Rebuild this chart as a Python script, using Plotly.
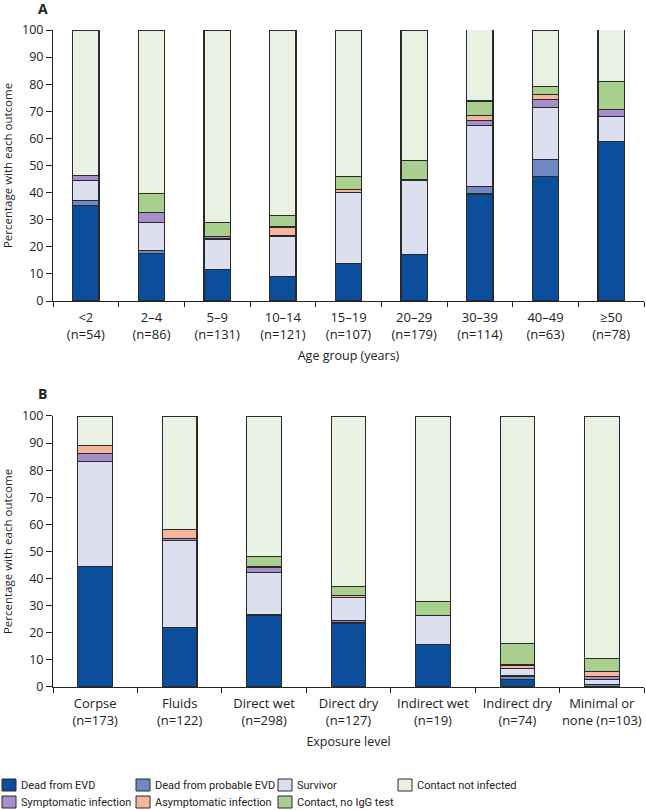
import plotly.graph_objects as go
from plotly.subplots import make_subplots

# ---------------- data ----------------
series = ["Dead from EVD", "Dead from probable EVD", "Survivor", "Symptomatic infection",
          "Asymptomatic infection", "Contact, no IgG test", "Contact not infected"]
colors = ["#0B4F9C", "#7089C5", "#DCDFF0", "#A78DC9", "#F6B59C", "#A9CF8F", "#E9F1E2"]

age_groups = ["<2<br>(n=54)", "2–4<br>(n=86)", "5–9<br>(n=131)", "10–14<br>(n=121)",
              "15–19<br>(n=107)", "20–29<br>(n=179)", "30–39<br>(n=114)",
              "40–49<br>(n=63)", "≥50<br>(n=78)"]
a_dead = [35.2, 17.4, 11.5, 9.1, 14.0, 17.3, 39.5, 46.0, 59.0]
a_prob = [1.8, 1.2, 0.0, 0.0, 0.0, 0.0, 2.6, 6.3, 0.0]
a_surv = [7.4, 10.5, 11.4, 14.9, 26.2, 27.1, 22.8, 19.0, 9.0]
a_symp = [1.9, 3.5, 0.8, 0.0, 0.0, 0.0, 1.8, 3.2, 2.6]
a_asym = [0.0, 0.0, 0.0, 3.3, 0.9, 0.6, 1.8, 1.6, 0.0]
a_noig = [0.0, 7.0, 5.3, 4.1, 4.7, 6.7, 5.3, 3.2, 10.3]
a_noti = [53.7, 60.4, 71.0, 68.6, 54.2, 48.3, 26.3, 20.6, 19.2]

exposure = ["Corpse<br>(n=173)", "Fluids<br>(n=122)", "Direct wet<br>(n=298)",
            "Direct dry<br>(n=127)", "Indirect wet<br>(n=19)", "Indirect dry<br>(n=74)",
            "Minimal or<br>none (n=103)"]
b_dead = [44.5, 22.1, 26.5, 23.6, 15.8, 2.7, 0.0]
b_prob = [0.0, 0.0, 0.3, 0.8, 0.0, 1.35, 1.0]
b_surv = [38.7, 32.0, 15.4, 8.7, 10.5, 2.7, 1.9]
b_symp = [2.9, 0.8, 2.0, 0.0, 0.0, 0.0, 1.0]
b_asym = [2.9, 3.3, 0.3, 0.8, 0.0, 1.35, 1.9]
b_noig = [0.0, 0.0, 3.7, 3.1, 5.3, 8.1, 4.8]
b_noti = [11.0, 41.8, 51.8, 63.0, 68.4, 83.8, 89.3]

y_ticks = [0, 10, 20, 30, 40, 50, 60, 70, 80, 90, 100]

# ---------------- figure ----------------
FONT = "Open Sans, Noto Sans, sans-serif"
LFONT = "Roboto, Lato, sans-serif"
FS = 12.5
W, H = 646, 810
ML, MR, MT, MB = 53, 2, 30, 123
pw = W - ML - MR
ph = H - MT - MB

fig = make_subplots(rows=2, cols=1, vertical_spacing=0.175)

a_vals = [a_dead, a_prob, a_surv, a_symp, a_asym, a_noig, a_noti]
b_vals = [b_dead, b_prob, b_surv, b_symp, b_asym, b_noig, b_noti]
OUTLINE = "#2a2a2a"

for i, name in enumerate(series):
    fig.add_trace(go.Bar(x=age_groups, y=a_vals[i], name=name, width=0.4,
                         marker=dict(color=colors[i], line=dict(color=OUTLINE, width=1.1)),
                         showlegend=False), row=1, col=1)
for i, name in enumerate(series):
    fig.add_trace(go.Bar(x=exposure, y=b_vals[i], name=name, width=0.41,
                         marker=dict(color=colors[i], line=dict(color=OUTLINE, width=1.1)),
                         showlegend=False), row=2, col=1)

axis_common = dict(showline=True, linecolor="#222", linewidth=1, ticks="outside",
                   tickcolor="#222", ticklen=5, tickwidth=1,
                   tickfont=dict(family=FONT, size=FS, color="#222"), showgrid=False, zeroline=False)

for r, title, so in [(1, "Age group (years)", 9), (2, "Exposure level", 9)]:
    fig.update_xaxes(axis_common, tickson="boundaries", tickangle=0, ticklabelstandoff=4,
                     tickfont=dict(family=FONT, size=13, color="#222"),
                     title=dict(text=title, font=dict(family=FONT, size=FS, color="#222"), standoff=so),
                     row=r, col=1)
    fig.update_yaxes(axis_common, range=[0, 100], tickvals=y_ticks, ticklen=6,
                     title=dict(text="Percentage with each outcome",
                                font=dict(family=FONT, size=11.5, color="#222"), standoff=11),
                     row=r, col=1)


def px_x(p):
    return (p - ML) / pw


def px_y(p):
    return (H - MB - p) / ph


# legend drawn as a 4-column grid (swatch left edge, row centre)
leg_order = [0, 1, 2, 6, 3, 4, 5]
swatch_px = [2, 136, 278, 398, 2, 136, 278]
row_px = [785, 785, 785, 785, 802, 802, 802]
shapes = []
annotations = []
for k, si in enumerate(leg_order):
    x0, yc = swatch_px[k], row_px[k]
    shapes.append(dict(type="rect", xref="paper", yref="paper",
                       x0=px_x(x0), x1=px_x(x0 + 14), y0=px_y(yc + 6), y1=px_y(yc - 6),
                       fillcolor=colors[si], line=dict(color=OUTLINE, width=1)))
    annotations.append(dict(text=series[si], x=px_x(x0 + 17), y=px_y(yc),
                            xref="paper", yref="paper", xanchor="left", yanchor="middle",
                            showarrow=False, font=dict(family=LFONT, size=11, color="#222")))

annotations += [
    dict(text="<b>A</b>", x=px_x(36), y=px_y(9), xref="paper", yref="paper",
         xanchor="left", yanchor="middle", showarrow=False,
         font=dict(family=FONT, size=14, color="#222")),
    dict(text="<b>B</b>", x=px_x(36), y=px_y(393), xref="paper", yref="paper",
         xanchor="left", yanchor="middle", showarrow=False,
         font=dict(family=FONT, size=14, color="#222")),
]

fig.update_layout(
    width=W, height=H, barmode="stack", showlegend=False,
    plot_bgcolor="white", paper_bgcolor="white",
    margin=dict(l=ML, r=MR, t=MT, b=MB, autoexpand=False),
    shapes=shapes, annotations=annotations,
)

fig.write_html("out.html", config={"displayModeBar": False},
               post_script="document.body.style.margin='0';")
